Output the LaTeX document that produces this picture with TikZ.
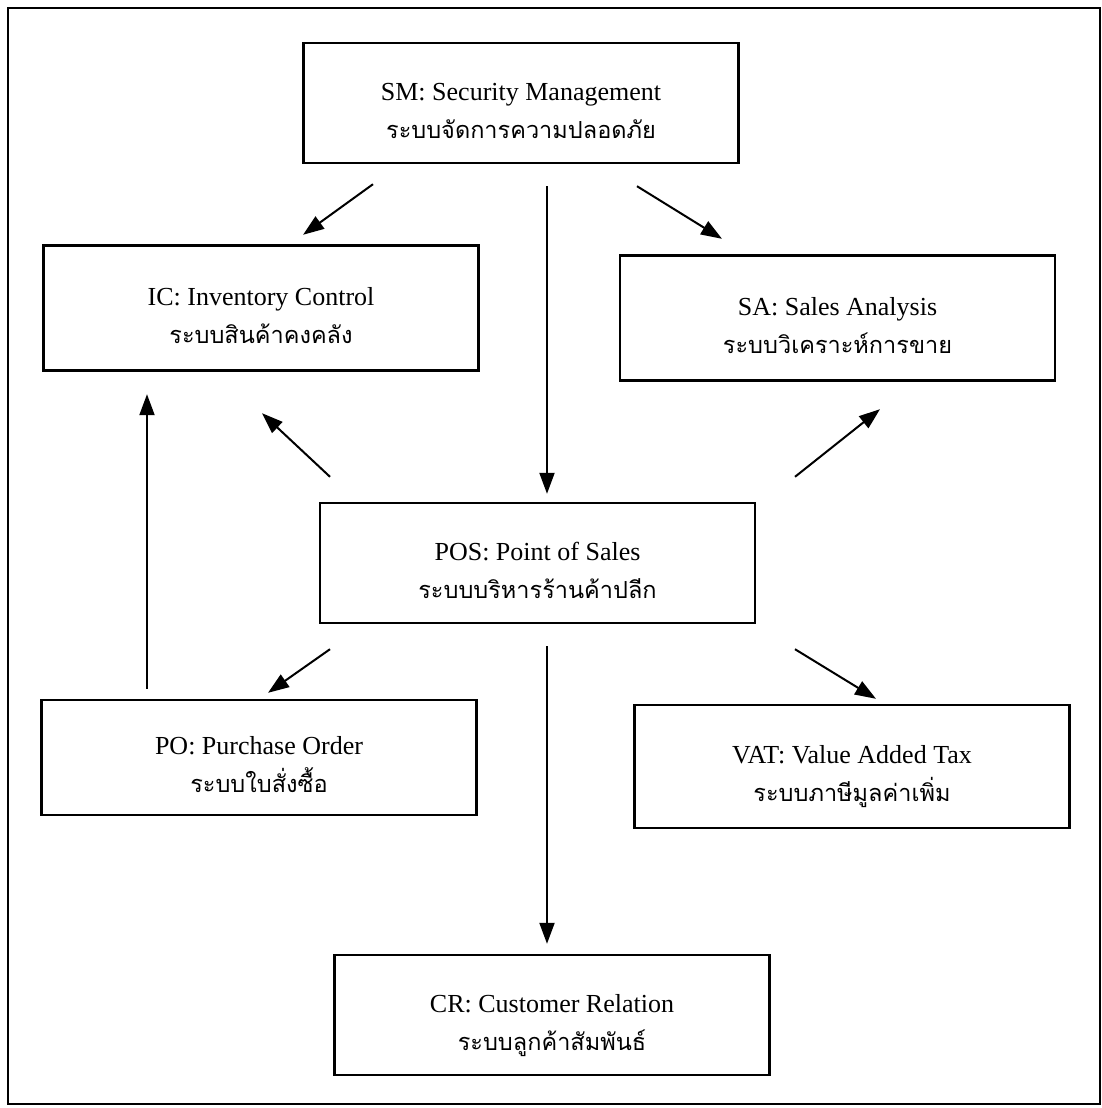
\documentclass[tikz,border=0pt]{standalone}
\usepackage{fontspec}
\setmainfont{Liberation Serif}
\newfontfamily\thaifont[Script=Thai]{Loma}
\usetikzlibrary{arrows.meta}
\newcommand{\twoline}[2]{\rule{0pt}{42pt}#1\\{\thaifont\fontsize{23.5}{38}\selectfont #2\rule[-10pt]{0pt}{0pt}}}

\begin{document}
\begin{tikzpicture}[x=1pt,y=-1pt]
\useasboundingbox (0,0) rectangle (1102,1108);
\draw[line width=2.5pt] (8,8) rectangle (1100,1104);
\begin{scope}[every node/.style={rectangle,draw,line width=2.4pt,minimum width=435pt,minimum height=120pt,align=center,inner sep=0pt,font=\fontsize{26}{38}\selectfont}]
    \node (SM) at (521,103) {\twoline{SM: Security Management}{ระบบจัดการความปลอดภัย}};
    \node[minimum height=125pt] (IC) at (261,308) {\twoline{IC: Inventory Control}{ระบบสินค้าคงคลัง}};
    \node[minimum height=125pt] (SA) at (837.5,318) {\twoline{SA: Sales Analysis}{ระบบวิเคราะห์การขาย}};
    \node (POS) at (537.5,563) {\twoline{POS: Point of Sales}{ระบบบริหารร้านค้าปลีก}};
    \node[minimum height=115pt] (PO) at (259,757.5) {\twoline{PO: Purchase Order}{ระบบใบสั่งซื้อ}};
    \node[minimum height=123pt] (VAT) at (852,766.5) {\twoline{VAT: Value Added Tax}{ระบบภาษีมูลค่าเพิ่ม}};
    \node (CR) at (552,1015) {\twoline{CR: Customer Relation}{ระบบลูกค้าสัมพันธ์}};
\end{scope}
\begin{scope}[every edge/.style={draw=black,line width=2pt,-{Triangle[length=21pt,width=15pt]}}]
    \path ([shift={(-148,20)}]SM.south) edge ([shift={(42,-9.5)}]IC.north);
    \path ([shift={(116,22)}]SM.south) edge ([shift={(-115.5,-15.5)}]SA.north);
    \path ([shift={(26,22)}]SM.south) edge ([shift={(9.5,-8)}]POS.north);
    \path ([shift={(-207.5,-25)}]POS.north) edge ([shift={(1,41.5)}]IC.south);
    \path ([shift={(257.5,-25)}]POS.north) edge ([shift={(42.5,27.5)}]SA.south);
    \path ([shift={(-207.5,25)}]POS.south) edge ([shift={(9,-6)}]PO.north);
    \path ([shift={(257.5,25)}]POS.south) edge ([shift={(24,-5)}]VAT.north);
    \path ([shift={(9.5,22)}]POS.south) edge ([shift={(-5,-10)}]CR.north);
    \path ([shift={(-112,-10)}]PO.north) edge ([shift={(-114,22.5)}]IC.south);
\end{scope}
\end{tikzpicture}
\end{document}
